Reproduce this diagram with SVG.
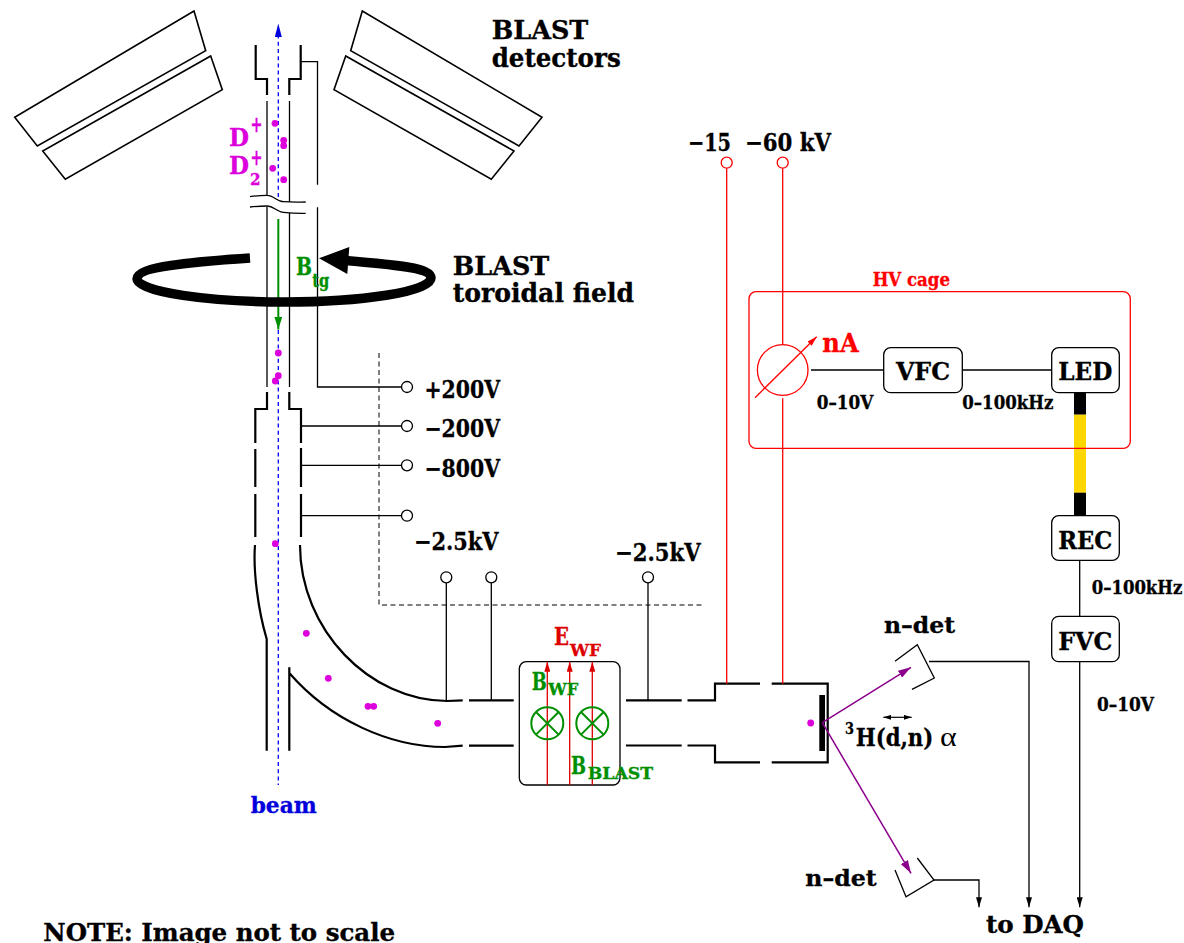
<svg xmlns="http://www.w3.org/2000/svg" width="1184" height="943" viewBox="0 0 1184 943">
<style>
text{font-family:"DejaVu Serif Condensed","DejaVu Serif","Liberation Serif",serif;font-weight:bold;fill:#000;stroke:#000;stroke-width:.3}
.s26{font-size:26px}.s24{font-size:24px}.s22{font-size:22px}.s18{font-size:18px}.s17{font-size:17px}.s15{font-size:16px}
.red{fill:#ff0000;stroke:#ff0000}.dred{fill:#dc0000;stroke:#dc0000}.grn{fill:#008f00;stroke:#008f00}.mag{fill:#dc00dc;stroke:#dc00dc}.blu{fill:#0000dc;stroke:#0000dc}
.l{fill:none;stroke:#000;stroke-width:1.3}
.t{fill:none;stroke:#000;stroke-width:2.2}
.d{fill:#fff;stroke:#000;stroke-width:1.6}
.box{fill:#fff;stroke:#000;stroke-width:1.3}
.term{fill:#fff;stroke:#000;stroke-width:1.3}
.r{fill:none;stroke:#ff0000;stroke-width:1.3}
.rterm{fill:#fff;stroke:#ff0000;stroke-width:1.3}
.er{fill:none;stroke:#dc0000;stroke-width:1.3}
.g{fill:none;stroke:#008f00;stroke-width:2}
.dot{fill:#dc00dc}
.dash{fill:none;stroke:#000;stroke-width:1;stroke-dasharray:5 3.5}
.beam{fill:none;stroke:#0000ff;stroke-width:1.3;stroke-dasharray:4 3.2}
.pur{fill:none;stroke:#8b008b;stroke-width:1.5}
</style>
<defs>
<marker id="ak" markerUnits="userSpaceOnUse" markerWidth="10" markerHeight="6" refX="10" refY="3" orient="auto"><path d="M0 0L10 3L0 6Z" fill="#000"/></marker>
<marker id="ab" markerUnits="userSpaceOnUse" markerWidth="13" markerHeight="8" refX="13" refY="4" orient="auto"><path d="M0 0L13 4L0 8Z" fill="#0000dc"/></marker>
<marker id="ag" markerUnits="userSpaceOnUse" markerWidth="13" markerHeight="8" refX="13" refY="4" orient="auto"><path d="M0 0L13 4L0 8Z" fill="#008f00"/></marker>
<marker id="ae" markerUnits="userSpaceOnUse" markerWidth="10" markerHeight="6" refX="10" refY="3" orient="auto"><path d="M0 0L10 3L0 6Z" fill="#dc0000"/></marker>
<marker id="ar" markerUnits="userSpaceOnUse" markerWidth="10" markerHeight="6" refX="10" refY="3" orient="auto"><path d="M0 0L10 3L0 6Z" fill="#ff0000"/></marker>
<marker id="ap" markerUnits="userSpaceOnUse" markerWidth="13" markerHeight="8" refX="13" refY="4" orient="auto"><path d="M0 0L13 4L0 8Z" fill="#8b008b"/></marker>
<marker id="dk" markerUnits="userSpaceOnUse" markerWidth="8" markerHeight="5" refX="8" refY="2.5" orient="auto-start-reverse"><path d="M0 0L8 2.5L0 5Z" fill="#000"/></marker>
</defs>
<rect width="1184" height="943" fill="#fff"/>

<g id="detectors">
<polygon class="d" points="194,11 205.7,50.7 37.3,146 14.7,117.3"/>
<polygon class="d" points="210.7,56 222.3,89.7 65.3,179.3 42.7,151"/>
<polygon class="d" points="362.3,11 350.7,50.7 519,146 542,117.3"/>
<polygon class="d" points="345.7,56 334,89.7 491.3,179.3 514,151"/>
<text class="s26" x="491.7" y="39" textLength="96.6" lengthAdjust="spacingAndGlyphs">BLAST</text>
<text class="s26" x="491.7" y="66.7" textLength="129" lengthAdjust="spacingAndGlyphs">detectors</text>
</g>

<g id="beamline">
<path class="t" d="M255.7 45V79H267V95M300.7 45V79H289.3V95"/>
<path class="l" d="M267 101V196M267 207V387M289.5 101V202M289.5 213V387"/>
<path class="t" d="M267 392V409H255.3V443M255.3 449V487M255.3 494V537M289.3 392V409H301V443M301 448V487M301 494V537"/>
<path class="t" d="M255 545C253 570 258 610 266.7 639V750.7"/>
<path class="t" d="M300 545C300 630 370 701 447 701L462.7 700.3M469 700.3H513.7"/>
<path class="t" d="M289.3 667.3V750.7M289.3 673C330 720 390 747 445 747L462.7 745.7M469 745.7H513.7"/>
<path class="t" d="M626 700.3H681.7M687.5 700.3H715V683.7H760M771.7 683.7H827.7V762.3H771.7M760 762.3H715V745.5H687.5M681.7 745.5H626"/>
<rect x="819.3" y="695" width="5.7" height="56" fill="#000"/>
<path class="l" d="M250 196.7C256 195.8 262 195.3 266.7 195.3C274 195.3 277 201.7 283.3 201.7C290 202.2 298 202.3 305.7 202"/>
<path class="l" d="M250 207C256 206.4 262 206 266.7 206C274 206 277 212.3 283.3 212.3C290 213 298 213.5 305.7 213.3"/>
</g>

<g id="connectors">
<path class="l" d="M301 61.7H317.5V184.7M317.5 207.3V387H401.5"/>
<path class="l" d="M301 426H401.5M301 465.3H401.5M301 515.7H401.5"/>
<path class="dash" d="M379 353V605H705"/>
<path class="l" d="M446.3 583V701M491.3 583V700.3M648 583V700.3"/>
<path class="r" d="M726.7 168.2V683.7M782.7 168.2V344.7M782.7 398.3V683.7"/>
<path class="l" d="M811 370H883.7M962.3 370H1051.7"/>
<path class="l" d="M1079.7 560.3V616.3"/>
<path class="l" d="M1079.7 661.7V907.3" marker-end="url(#ak)"/>
<path class="l" d="M929 661.5H1029V907.3" marker-end="url(#ak)"/>
<path class="l" d="M934 880H979V907.3" marker-end="url(#ak)"/>
<rect x="1074" y="392.7" width="12" height="22" fill="#000"/>
<rect x="1074" y="414.7" width="12" height="78" fill="#ffd700"/>
<rect x="1074" y="492.7" width="12" height="23" fill="#000"/>
<path class="pur" d="M822.3 722.7L911 667.3" marker-end="url(#ap)"/>
<path class="pur" d="M822.3 722.7L911 873.3" marker-end="url(#ap)"/>
<path class="beam" d="M278.3 197V37"/>
<path class="beam" d="M278.3 330V785"/>
<polygon points="278.3,23.5 274.8,37 281.8,37" fill="#0000dc"/>
<path class="g" d="M278.3 219V329.5" marker-end="url(#ag)"/>
</g>

<g id="toroid">
<path fill="none" stroke="#000" stroke-width="9.5" d="M250 258C190 262 137 267 137 279C137 292 210 302 285 302C360 302 431 292 431 278C431 268 400 265 345 260.5"/>
<polygon points="319,258.3 349.3,247 347.3,274" fill="#000"/>
<text class="s26" x="452.7" y="275" textLength="96.6" lengthAdjust="spacingAndGlyphs">BLAST</text>
<text class="s26" x="452.7" y="301.7" textLength="181.3" lengthAdjust="spacingAndGlyphs">toroidal field</text>
<text class="s24 grn" x="296" y="275" textLength="16" lengthAdjust="spacingAndGlyphs">B</text>
<text class="s18 grn" x="312.3" y="286.7" textLength="17" lengthAdjust="spacingAndGlyphs">tg</text>
</g>

<g id="particles">
<circle class="dot" cx="275" cy="123.3" r="3.4"/><circle class="dot" cx="283.7" cy="140.3" r="3.4"/><circle class="dot" cx="283.7" cy="145.7" r="3.4"/><circle class="dot" cx="272.7" cy="168.3" r="3.4"/><circle class="dot" cx="283.7" cy="179.7" r="3.4"/>
<circle class="dot" cx="278.3" cy="353" r="3.4"/><circle class="dot" cx="278.3" cy="375.7" r="3.4"/><circle class="dot" cx="275.3" cy="381" r="3.4"/><circle class="dot" cx="275.3" cy="543.7" r="3.4"/>
<circle class="dot" cx="306.3" cy="633.3" r="3.4"/><circle class="dot" cx="328.3" cy="678.3" r="3.4"/><circle class="dot" cx="368" cy="706.3" r="3.4"/><circle class="dot" cx="373.7" cy="706.3" r="3.4"/><circle class="dot" cx="437.7" cy="723.3" r="3.4"/><circle class="dot" cx="810.7" cy="723" r="3.4"/>
<text class="s24 mag" x="229" y="146" textLength="20" lengthAdjust="spacingAndGlyphs">D</text>
<text class="s22 mag" x="250.5" y="131.5" textLength="12" lengthAdjust="spacingAndGlyphs">+</text>
<text class="s24 mag" x="229" y="174" textLength="20" lengthAdjust="spacingAndGlyphs">D</text>
<text class="s22 mag" x="250.5" y="165" textLength="12" lengthAdjust="spacingAndGlyphs">+</text>
<text class="s15 mag" x="250" y="185" textLength="10.5" lengthAdjust="spacingAndGlyphs">2</text>
</g>

<g id="terminals">
<circle class="term" cx="407" cy="387" r="5.5"/><circle class="term" cx="407" cy="426" r="5.5"/><circle class="term" cx="407" cy="465.3" r="5.5"/><circle class="term" cx="407" cy="515.7" r="5.5"/>
<circle class="term" cx="446.3" cy="577.3" r="5.5"/><circle class="term" cx="491.3" cy="577.3" r="5.5"/><circle class="term" cx="648" cy="577.3" r="5.5"/>
<circle class="rterm" cx="726.7" cy="162.7" r="5.5"/><circle class="rterm" cx="782.7" cy="162.7" r="5.5"/>
<text class="s24" x="424.5" y="397.7" textLength="75.5" lengthAdjust="spacingAndGlyphs">+200V</text>
<text class="s24" x="424.5" y="436.7" textLength="75.5" lengthAdjust="spacingAndGlyphs">−200V</text>
<text class="s24" x="424.5" y="476.7" textLength="75.5" lengthAdjust="spacingAndGlyphs">−800V</text>
<text class="s24" x="414" y="550" textLength="84.5" lengthAdjust="spacingAndGlyphs">−2.5kV</text>
<text class="s24" x="615" y="561" textLength="85.7" lengthAdjust="spacingAndGlyphs">−2.5kV</text>
<text class="s24" x="688" y="151" textLength="43" lengthAdjust="spacingAndGlyphs">−15</text>
<text class="s24" x="745" y="151" textLength="86" lengthAdjust="spacingAndGlyphs">−60 kV</text>
</g>

<g id="wien-filter">
<rect class="box" x="519.3" y="661.7" width="100.7" height="123.3" rx="7" style="fill:none"/>
<path class="er" d="M547.3 785V661.7" marker-end="url(#ae)"/>
<path class="er" d="M569.7 785V661.7" marker-end="url(#ae)"/>
<path class="er" d="M592.3 785V661.7" marker-end="url(#ae)"/>
<circle class="g" cx="547.3" cy="723.3" r="16"/><path class="g" d="M536 712L558.6 734.6M558.6 712L536 734.6"/>
<circle class="g" cx="592.3" cy="723.3" r="16"/><path class="g" d="M581 712L603.6 734.6M603.6 712L581 734.6"/>
<text class="s24 dred" x="554" y="645" textLength="15" lengthAdjust="spacingAndGlyphs">E</text>
<text class="s17 dred" x="570" y="655.7" textLength="31" lengthAdjust="spacingAndGlyphs">WF</text>
<text class="s24 grn" x="531.7" y="690" textLength="15" lengthAdjust="spacingAndGlyphs">B</text>
<text class="s17 grn" x="548.3" y="695" textLength="30" lengthAdjust="spacingAndGlyphs">WF</text>
<text class="s24 grn" x="571" y="774" textLength="15" lengthAdjust="spacingAndGlyphs">B</text>
<text class="s17 grn" x="587.7" y="779" textLength="65.5" lengthAdjust="spacingAndGlyphs">BLAST</text>
</g>

<g id="hv-cage">
<rect x="749" y="291.7" width="381.3" height="156.6" rx="7" class="r"/>
<text class="s18 red" x="872.7" y="286" textLength="77.3" lengthAdjust="spacingAndGlyphs">HV cage</text>
<circle class="r" cx="782.7" cy="370" r="25.3"/>
<path class="r" d="M755 397.7L816.7 336.7" marker-end="url(#ar)"/>
<text class="s26 red" x="822.3" y="352.3" textLength="36.4" lengthAdjust="spacingAndGlyphs">nA</text>
<text class="s18" x="816.7" y="408.7" textLength="56.6" lengthAdjust="spacingAndGlyphs">0–10V</text>
<text class="s18" x="962.3" y="408.7" textLength="91" lengthAdjust="spacingAndGlyphs">0–100kHz</text>
</g>

<g id="vfc"><rect class="box" x="883.7" y="347.7" width="78.6" height="45" rx="7"/><text class="s24" x="896" y="380" textLength="54" lengthAdjust="spacingAndGlyphs">VFC</text></g>
<g id="led"><rect class="box" x="1051.7" y="347.7" width="67.6" height="45" rx="7"/><text class="s24" x="1058.3" y="380" textLength="54" lengthAdjust="spacingAndGlyphs">LED</text></g>
<g id="rec"><rect class="box" x="1051.7" y="515.7" width="67.6" height="44.6" rx="7"/><text class="s24" x="1058.3" y="549.3" textLength="54" lengthAdjust="spacingAndGlyphs">REC</text></g>
<g id="fvc"><rect class="box" x="1051.7" y="616.3" width="67.6" height="45.4" rx="7"/><text class="s24" x="1058.3" y="650" textLength="54" lengthAdjust="spacingAndGlyphs">FVC</text></g>
<text class="s18" x="1091.7" y="594" textLength="90.6" lengthAdjust="spacingAndGlyphs">0–100kHz</text>
<text class="s18" x="1097" y="711.3" textLength="57" lengthAdjust="spacingAndGlyphs">0–10V</text>

<g id="n-det-top">
<path class="l" d="M895 661.3L917.3 644.7L934.3 678L912 689.3"/>
<text class="s22" x="884" y="633.3" textLength="71" lengthAdjust="spacingAndGlyphs">n–det</text>
</g>
<g id="n-det-bottom">
<path class="l" d="M895 870L906 896.7L934 880L917.3 858"/>
<text class="s22" x="805.3" y="885.7" textLength="71.4" lengthAdjust="spacingAndGlyphs">n–det</text>
</g>

<g id="reaction">
<text class="s15" x="845" y="734" textLength="9" lengthAdjust="spacingAndGlyphs">3</text>
<text class="s24" x="855.7" y="746" textLength="77.6" lengthAdjust="spacingAndGlyphs">H(d,n)</text>
<text x="940" y="746" style="font-family:'Liberation Serif',serif;font-weight:normal;font-size:27px;stroke:none" textLength="16.7" lengthAdjust="spacingAndGlyphs">α</text>
<path d="M883.3 717.3H911.7" fill="none" stroke="#000" stroke-width="1.2" marker-start="url(#dk)" marker-end="url(#dk)"/>
</g>

<text class="s22 blu" x="250.7" y="813.3" textLength="66" lengthAdjust="spacingAndGlyphs">beam</text>
<text class="s24" x="986" y="933.3" textLength="98" lengthAdjust="spacingAndGlyphs">to DAQ</text>
<text class="s24" x="43.3" y="940.7" textLength="351.7" lengthAdjust="spacingAndGlyphs">NOTE: Image not to scale</text>
</svg>
